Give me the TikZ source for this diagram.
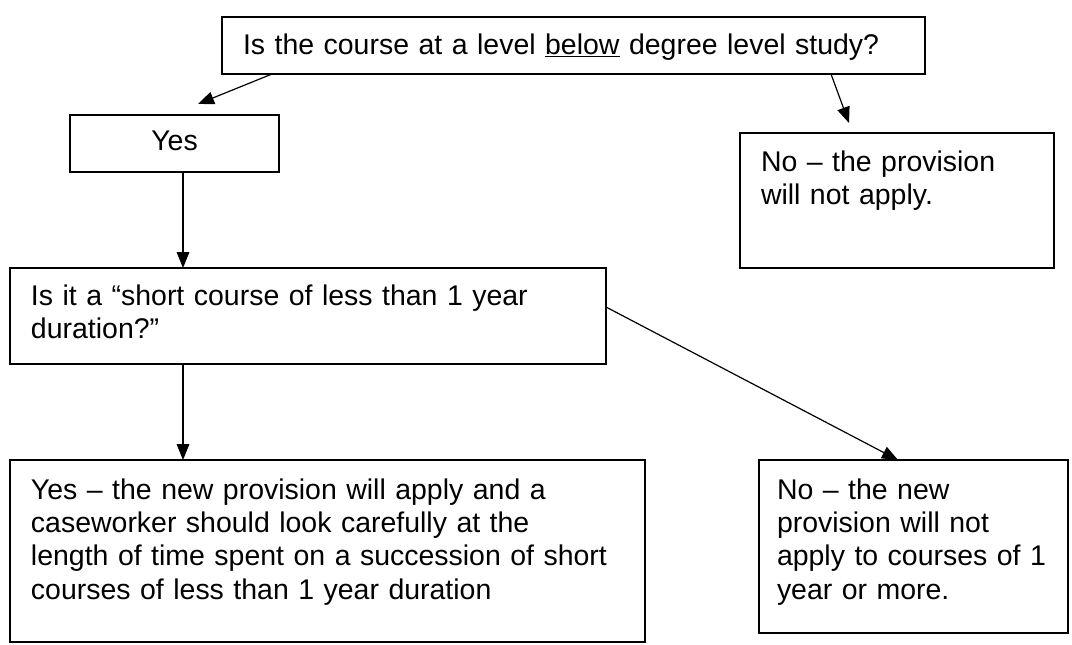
\documentclass[tikz,border=0pt]{standalone}
\usepackage{fontspec}
\setmainfont{Liberation Sans}
\usetikzlibrary{arrows.meta}

\begin{document}
\begin{tikzpicture}
    [x=0.75pt, y=-0.75pt, >={Triangle[length=12pt, width=9.5pt]},
     box/.style={draw, line width=1.1pt, anchor=north west, align=left, inner xsep=15.75pt, inner ysep=0pt, outer sep=0pt, font=\fontsize{21.35}{25}\selectfont},
     link/.style={->, line width=0.9pt}]
    \useasboundingbox (0,0) rectangle (1072,644);
    % questions and answers
    \node[box, text width=495.75pt, text height=27.75pt, text depth=15pt] (q1) at (222,17) {Is the course at a level \underline{below} degree level study?};
    \node[box, align=center, text width=125.25pt, text height=26.25pt, text depth=16.5pt] (y1) at (70,115) {Yes};
    \node[box, text width=204pt, text height=28.5pt, text depth=72.75pt] (n1) at (740,133) {No – the provision\\will not apply.};
    \node[box, text width=415.5pt, text height=27.75pt, text depth=44.25pt] (q2) at (10,268) {Is it a “short course of less than 1 year\\duration?”};
    \node[box, text width=444.75pt, text height=29.25pt, text depth=107.25pt] (y2) at (10,460) {Yes – the new provision will apply and a\\caseworker should look carefully at the\\length of time spent on a succession of short\\courses of less than 1 year duration};
    \node[box, inner xsep=13.5pt, text width=204.75pt, text height=29.25pt, text depth=100.5pt] (n2) at (759,460) {No – the new\\provision will not\\apply to courses of 1\\year or more.};
    % arrows
    \draw[link] ([xshift=37.5pt]q1.south west) -- ([xshift=96pt, yshift=8.25pt]y1.north west);
    \draw[link] ([xshift=456.75pt]q1.south west) -- ([xshift=81.75pt, yshift=7.5pt]n1.north west);
    \draw[link] ([xshift=84.75pt]y1.south west) -- ([xshift=129.75pt]q2.north west);
    \draw[link] ([xshift=129.75pt]q2.south west) -- ([xshift=129.75pt]y2.north west);
    \draw[link] ([yshift=-29.25pt]q2.north east) -- ([xshift=104.25pt]n2.north west);
\end{tikzpicture}
\end{document}
